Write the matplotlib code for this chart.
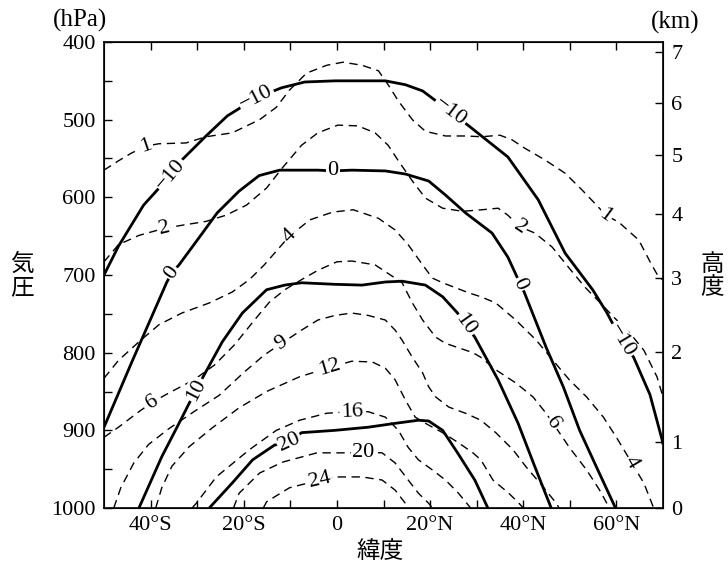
import numpy as np
import matplotlib.pyplot as plt

plt.rcParams['font.family'] = ['Liberation Serif', 'Noto Sans CJK JP']

# isotherms (solid, deg C): latitude (S negative), pressure (hPa)
tm10_lat = [-50, -46.9, -41.5, -35.6, -33.3, -28.1, -23.5, -17.3, -11.9, -6.9, -0.4, 6.7, 10.4, 14.7,
            18.4, 24.4, 28.1, 36.7, 43.2, 49.0, 54.9, 57.9, 61.1, 63.7, 67.2, 69.8, 70]
tm10_p = [700, 663, 610, 571, 552, 521, 495, 472, 459, 451.5, 450, 450, 450, 455,
          463, 490, 507, 548, 603, 672, 719, 748, 784, 806, 854, 912, 918]

t0_lat = [-50, -44.1, -36.5, -35.4, -33.9, -29.6, -25.7, -21.0, -16.7, -12.3, -4.1, -0.9, 3.2, 10.4,
          14.7, 19.7, 23.3, 27.6, 33.3, 36.7, 38.7, 39.3, 40.2, 44.9, 48.6, 52.1, 55.7, 59.8]
t0_p = [896, 813, 709, 697, 687, 652, 620, 592, 572, 565, 565, 566, 565, 566,
        570, 579, 597, 620, 646, 677, 703, 712, 722, 793, 844, 900, 947, 1000]

t10_lat = [-42.5, -37.6, -33.9, -31.7, -30.2, -28.9, -24.6, -20.3, -15.1, -11.2, -7.6, -0.4, 5.4,
           10.4, 14.0, 19.0, 22.7, 25.9, 27.6, 29.6, 34.6, 38.9, 42.5, 46.0]
t10_p = [1000, 934, 891, 865, 848, 833, 786, 749, 719, 713, 710, 712, 713,
         709, 708, 713, 728, 749, 764, 780, 835, 891, 947, 1000]

t20_lat = [-27.4, -22.5, -18.1, -13.4, -10.2, -7.6, -0.4, 6.7, 12.5, 17.5, 19.7, 22.7, 25.9, 29.6, 32.4]
t20_p = [1000, 968, 938, 919, 915, 903, 900, 896, 891, 887, 888, 900, 929, 964, 1000]

# mixing ratio (dashed, g/kg)
q1_lat = [-50, -46.9, -44.1, -41.0, -38.2, -32.4, -28.1, -22.5, -16.6, -13.0, -10.2, -6.5, -2.2, 1.3,
          5.4, 8.9, 11.0, 13.2, 16.2, 19.0, 23.3, 27.6, 31.1, 35.0, 37.6, 40.4, 44.7, 49.0,
          52.7, 56.2, 57.7, 60.5, 64.8, 67.4, 69.1, 70]
q1_p = [565, 553, 543, 534, 531, 530, 522, 517, 500, 484, 462, 440, 430, 426,
        430, 437, 455, 476, 500, 515, 521, 521, 522, 520, 526, 537, 552, 569,
        591, 613, 623, 632, 655, 685, 703, 706]

q2_lat = [-50, -46.9, -42.5, -37.1, -33.3, -28.1, -23.8, -19.4, -15.1, -11.7, -7.6, -4.1, 0.2, 4.5,
          8.2, 11.0, 13.2, 16.2, 19.0, 22.7, 27.0, 31.1, 34.6, 36.7, 39.3, 42.5, 46.2, 49.7,
          53.3, 56.4, 59.4, 62.9, 65.9, 68.7, 70]
q2_p = [683, 661, 649, 640, 636, 631, 623, 610, 588, 562, 533, 517, 507, 508,
        517, 533, 553, 579, 601, 614, 618, 616, 614, 623, 638, 646, 664, 690,
        716, 735, 754, 775, 797, 831, 857]

q4_lat = [-50, -46.9, -42.5, -38.2, -33.3, -27.4, -22.5, -18.8, -15.6, -10.2, -5.8, -0.9, 3.5, 8.9,
          12.5, 15.3, 18.4, 20.5, 22.7, 28.3, 30.9, 34.1, 38.4, 42.8, 46.4, 49.9, 53.6, 57.2,
          60.0, 63.3, 65.9, 67.6, 68.0]
q4_p = [833, 810, 786, 764, 749, 736, 722, 706, 687, 650, 629, 619, 616, 627,
        642, 661, 687, 704, 710, 723, 728, 736, 758, 784, 810, 835, 857, 883,
        909, 942, 968, 994, 1000]

q6_lat = [-50, -46.9, -42.5, -39.7, -36.1, -30.7, -26.3, -22.0, -17.7, -14.5, -11.2, -7.6, -4.1, 0,
          3.2, 8.2, 12.5, 14.0, 16.2, 18.4, 21.2, 23.3, 29.2, 30.9, 34.1, 38.4, 42.1, 44.9,
          46.4, 49.9, 53.6, 56.4, 58.5]
q6_p = [909, 896, 876, 864, 852, 835, 816, 790, 758, 735, 719, 706, 694, 683,
        682, 687, 704, 710, 736, 758, 780, 788, 800, 806, 822, 839, 857, 878,
        891, 922, 951, 977, 1000]

q9_lat = [-47.9, -46.4, -43.6, -40.4, -36.1, -30.7, -25.3, -19.9, -15.6, -11.9, -7.6, -4.1, -0.4, 3.2,
          6.7, 10.4, 12.5, 14.0, 16.2, 18.4, 19.7, 21.2, 24.0, 27.6, 30.9, 34.1, 37.8, 40.6,
          44.3, 47.1, 47.7]
q9_p = [1000, 974, 942, 918, 898, 876, 855, 825, 803, 788, 771, 758, 752, 749,
        752, 758, 771, 784, 806, 826, 844, 857, 870, 878, 887, 903, 925, 947,
        973, 994, 1000]

q12_lat = [-38.9, -37.6, -35.4, -31.7, -26.8, -21.0, -15.1, -8.0, -1.5, 3.2, 7.6, 10.4, 12.5, 14.7,
           16.8, 19.0, 22.7, 26.1, 29.2, 30.9, 33.5, 36.9, 39.1, 40.0]
q12_p = [1000, 974, 946, 921, 897, 871, 850, 831, 819, 811, 812, 820, 835, 861,
         883, 891, 903, 916, 929, 938, 964, 981, 994, 1000]

q16_lat = [-31.1, -30.2, -25.9, -18.8, -13.0, -8.0, -2.2, 3.2, 6.7, 10.4, 13.2, 15.3, 17.5, 20.5,
           23.3, 26.1, 28.7]
q16_p = [1000, 994, 960, 925, 900, 887, 878, 876, 876, 883, 900, 922, 938, 951,
         964, 981, 1000]

q20_lat = [-22.2, -21.0, -16.6, -11.7, -4.3, 2.8, 5.6, 9.7, 12.5, 15.3, 17.5, 19.7, 20.5]
q20_p = [1000, 981, 955, 941, 929, 929, 928, 929, 942, 964, 981, 994, 1000]

q24_lat = [-15.8, -15.1, -10.2, -3.7, -0.4, 5.4, 9.7, 12.5, 14.7, 15.3]
q24_p = [1000, 992, 974, 964, 960, 960, 964, 977, 994, 1000]

xtick_vals = [-40, -20, 0, 20, 40, 60]
xtick_text = ['40°S', '20°S', '0', '20°N', '40°N', '60°N']
ptick_vals = [400, 500, 600, 700, 800, 900, 1000]
km_vals = [0, 1, 2, 3, 4, 5, 6, 7]
km_p = [1000, 915, 799, 704, 621, 545, 478, 413]

# (lat, p, solid?, label text, label point index)
lines = [
    (tm10_lat, tm10_p, True, '−10', [3, 7, 15, 22]),
    (t0_lat, t0_p, True, '0', [3, 11, 21]),
    (t10_lat, t10_p, True, '10', [4, 18]),
    (t20_lat, t20_p, True, '20', [4]),
    (q1_lat, q1_p, False, '1', [3, 30]),
    (q2_lat, q2_p, False, '2', [3, 24]),
    (q4_lat, q4_p, False, '4', [9, 29]),
    (q6_lat, q6_p, False, '6', [3, 28]),
    (q9_lat, q9_p, False, '9', [9]),
    (q12_lat, q12_p, False, '12', [8]),
    (q16_lat, q16_p, False, '16', [7]),
    (q20_lat, q20_p, False, '20', [6]),
    (q24_lat, q24_p, False, '24', [3]),
]

fig = plt.figure(figsize=(7.28, 5.67), dpi=100)
ax = fig.add_axes([104/728, 1-508/567, (663-104)/728, (508-42)/567])
ax.set_xlim(-50, 70)
ax.set_ylim(1000, 400)

for lat, p, solid, txt, labs in lines:
    if solid:
        ax.plot(lat, p, color='black', lw=2.0, solid_capstyle='butt', zorder=3)
    else:
        ax.plot(lat, p, color='black', lw=1.0, ls=(0, (6, 4)), zorder=2)

# inline labels, rotated along the line
for lat, p, solid, txt, labs in lines:
    pts = ax.transData.transform(np.column_stack([lat, p]))
    for i in labs:
        j0, j1 = max(i-1, 0), min(i+1, len(lat)-1)
        dx, dy = pts[j1] - pts[j0]
        ang = np.degrees(np.arctan2(dy, dx))
        if ang > 90:
            ang -= 180
        if ang < -90:
            ang += 180
        ax.text(lat[i], p[i], txt, rotation=ang, rotation_mode='anchor', ha='center', va='center',
                fontsize=16, zorder=5,
                bbox=dict(boxstyle='square,pad=0.06', fc='white', ec='none'))

ax.set_xticks(xtick_vals)
ax.set_xticklabels(xtick_text)
ax.set_xticks([-30, -10, 10, 30, 50], minor=True)
ax.set_yticks(ptick_vals)
ax.set_yticks([450, 550, 650, 750, 850, 950], minor=True)
ax.tick_params(which='both', direction='in', length=6, width=1, top=True, labelsize=16, pad=6)
for s in ax.spines.values():
    s.set_linewidth(1.2)

ax2 = ax.twinx()
ax2.set_ylim(1000, 400)
ax2.set_yticks(km_p)
ax2.set_yticklabels([str(k) for k in km_vals])
ax2.tick_params(direction='in', length=6, width=1, labelsize=16, pad=6)

fig.text(80/728, 1-20/567, '(hPa)', ha='center', va='center', fontsize=18)
fig.text(675/728, 1-22/567, '(km)', ha='center', va='center', fontsize=18)
fig.text(22/728, 1-276/567, '気\n圧', ha='center', va='center', fontsize=17, linespacing=1.0,
         family=['Noto Sans CJK JP'])
fig.text(712/728, 1-276/567, '高\n度', ha='center', va='center', fontsize=17, linespacing=1.0,
         family=['Noto Sans CJK JP'])
fig.text(380/728, 1-551/567, '緯度', ha='center', va='center', fontsize=17,
         family=['Noto Sans CJK JP'])

fig.savefig('out.png', dpi=100)
